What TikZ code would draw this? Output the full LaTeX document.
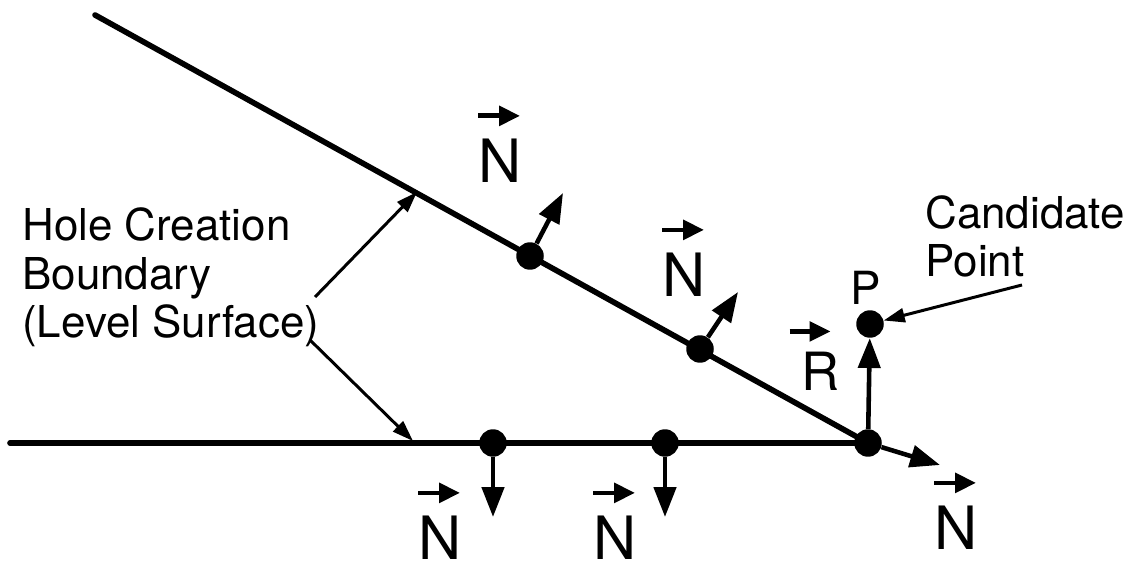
\documentclass[tikz,border=0pt]{standalone}
\usepackage{fontspec}
\setmainfont{TeX Gyre Heros}
\usetikzlibrary{arrows.meta}
\tikzset{
  boundary/.style={
    line width=3.2pt,
    line cap=round
  },
  surface dot/.style={
    circle,
    fill=black,
    inner sep=0pt,
    minimum size=0.55cm
  },
  normal arrow/.style={
    -{Triangle[length=17pt, width=12.5pt]},
    line width=2.6pt
  },
  pointer/.style={
    -{Triangle[length=12pt, width=8pt]},
    line width=1.7pt
  },
  vec bar/.style={
    -{Triangle[length=12pt, width=11pt]},
    line width=2.7pt
  },
  vec letter/.style={
    inner sep=0pt,
    font=\fontsize{34}{34}\selectfont
  },
  caption/.style={
    inner sep=0pt,
    anchor=north west,
    align=left,
    font=\fontsize{25}{27.8}\selectfont
  }
}

\begin{document}
\begin{tikzpicture}[x=0.02cm, y=-0.02cm]
    \useasboundingbox (0,0) rectangle (1141,570);

    % points on the level surface
    \node[surface dot] (Corner) at (868,443) {};
    \node[surface dot] (UpperA) at (530,256) {};
    \node[surface dot] (UpperB) at (700,349) {};
    \node[surface dot] (LowerA) at (493,443) {};
    \node[surface dot] (LowerB) at (665,443) {};
    \node[surface dot] (P) at (870,324) {};

    % hole creation boundary (two straight pieces meeting at the corner)
    \coordinate (UpperEnd) at (95,15);
    \coordinate (LowerEnd) at (10,443);
    \draw[boundary] (UpperEnd) -- (Corner.center);
    \draw[boundary] (LowerEnd) -- (Corner.center);

    % surface normals
    \coordinate (UpperATip) at (563,193);
    \coordinate (UpperBTip) at (738,292);
    \coordinate (LowerATip) at (493,517);
    \coordinate (LowerBTip) at (665,517);
    \coordinate (CornerTip) at (940,465);
    \draw[normal arrow] (UpperA) -- (UpperATip);
    \draw[normal arrow] (UpperB) -- (UpperBTip);
    \draw[normal arrow] (LowerA) -- (LowerATip);
    \draw[normal arrow] (LowerB) -- (LowerBTip);
    \draw[normal arrow] (Corner) -- (CornerTip);

    % R from the corner to the candidate point
    \draw[normal arrow] (Corner) -- (P);

    % vector labels
    \node[vec letter] (NUpperA) at (500,161) {N};
    \node[vec letter] (NUpperB) at (684,275) {N};
    \node[vec letter] (NLowerA) at (440,538) {N};
    \node[vec letter] (NLowerB) at (615,538) {N};
    \node[vec letter] (NCorner) at (956,528) {N};
    \node[vec letter, font=\fontsize{30}{30}\selectfont] (RLabel) at (821,371) {R};
    \node[inner sep=0pt, font=\fontsize{26}{26}\selectfont] (PLabel) at (866,288) {P};
    \foreach \n in {NUpperA, NUpperB, NLowerA, NLowerB, NCorner}
      \draw[vec bar] ([shift={(0,-23)}]\n.north west) -- ++(42,0);
    \draw[vec bar] ([shift={(-12,-20)}]RLabel.north west) -- ++(41,0);

    % captions and their pointers
    \node[caption] (HoleText) at (22,207) {Hole Creation\\Boundary\\(Level Surface)};
    \node[caption, font=\fontsize{25}{27.3}\selectfont] (CandText) at (925,195) {Candidate\\Point};
    \coordinate (HoleTailA) at (315,297);
    \coordinate (HoleTailB) at (310,340);
    \coordinate (UpperMark) at (417,192);
    \coordinate (LowerMark) at (413,441);
    \coordinate (CandTail) at (1022,285);
    \draw[pointer] (HoleTailA) -- (UpperMark);
    \draw[pointer] (HoleTailB) -- (LowerMark);
    \draw[pointer] (CandTail) -- (P);

\end{tikzpicture}
\end{document}
